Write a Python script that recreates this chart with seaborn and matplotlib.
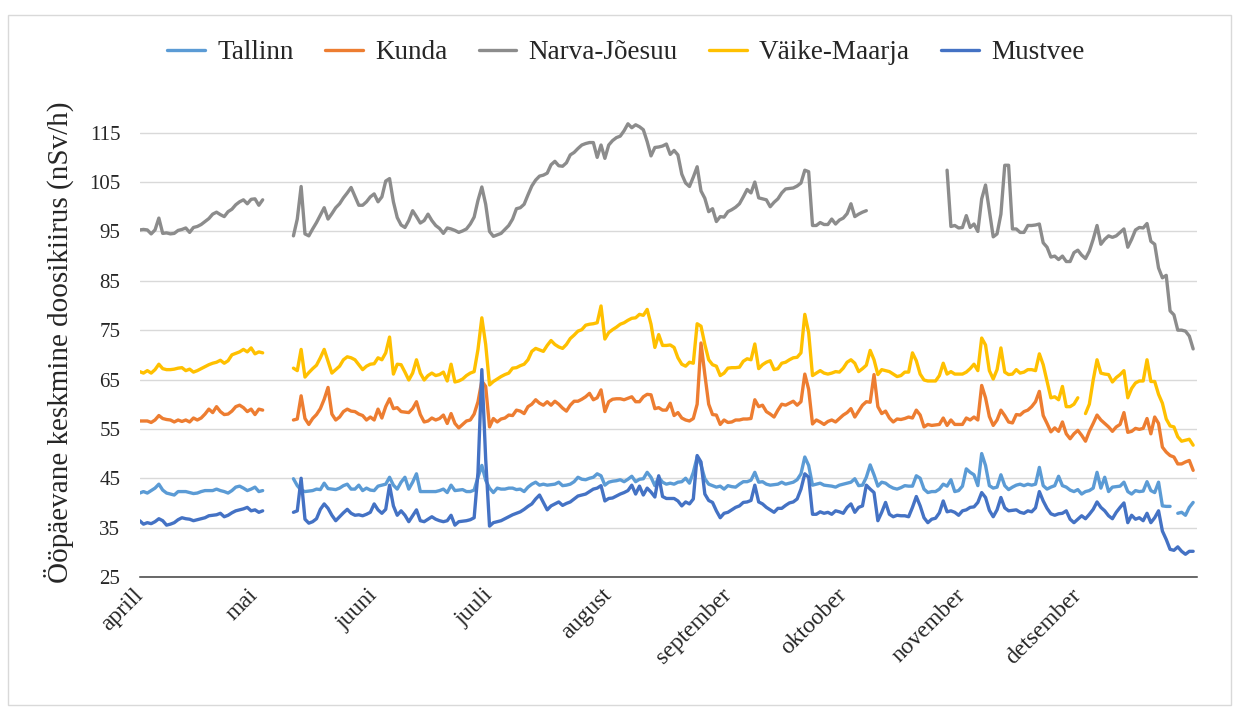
import numpy as np
import pandas as pd
import seaborn as sns
import matplotlib.pyplot as plt
from matplotlib.patches import Rectangle

nan = np.nan

stations = ["Tallinn", "Kunda", "Narva-Jõesuu", "Väike-Maarja", "Mustvee"]
colors = ["#5B9BD5", "#ED7D31", "#8C8C8C", "#FFC000", "#4472C4"]
month_labels = ["aprill", "mai", "juuni", "juuli", "august", "september",
                "oktoober", "november", "detsember"]
y_ticks = [25, 35, 45, 55, 65, 75, 85, 95, 105, 115]

days = pd.date_range("2019-04-01", "2019-12-31", freq="D")

# päevased väärtused (nSv/h), loetud graafikult kuude kaupa
tallinn = (
    [42.0, 42.3, 42.0, 42.5, 43.0, 43.8, 42.6, 42.0, 41.8, 41.6, 42.3, 42.3, 42.3, 42.1, 41.9,
     42.0, 42.3, 42.5, 42.5, 42.5, 42.8, 42.5, 42.3, 42.0, 42.5, 43.2, 43.4, 43.0, 42.5, 42.8]
    + [43.2, 42.3, 42.5, nan, nan, nan, nan, nan, nan, nan, 44.9, 43.5, 42.6, 42.3, 42.4, 42.5,
       42.8, 42.7, 44.0, 42.9, 42.8, 42.7, 43.0, 43.5, 43.8, 42.8, 42.8, 43.6, 42.5, 43.0, 42.6]
    + [42.5, 43.4, 43.6, 43.8, 45.2, 43.6, 42.8, 44.2, 45.2, 42.8, 44.2, 45.9, 42.3, 42.3, 42.3,
       42.3, 42.3, 42.5, 42.8, 42.1, 43.6, 42.5, 42.6, 42.7, 42.3, 42.3, 42.6, 45.2, 47.6, 44.6]
    + [43.0, 42.1, 43.0, 42.8, 42.8, 43.0, 43.0, 42.7, 42.8, 42.3, 43.2, 43.8, 44.2, 43.6, 43.8,
       43.6, 43.7, 43.8, 44.2, 43.5, 43.6, 43.8, 44.3, 45.2, 44.8, 44.7, 45.0, 45.2, 45.9, 45.5, 43.6]
    + [44.2, 44.4, 44.5, 44.7, 44.3, 44.8, 45.4, 44.3, 44.8, 44.9, 46.2, 45.2, 43.5, 45.2, 44.2,
       43.8, 44.0, 43.8, 44.2, 44.3, 45.0, 44.0, 46.2, 49.3, 47.7, 44.9, 43.8, 43.5, 43.2, 43.4, 42.8]
    + [43.5, 43.3, 43.2, 43.8, 44.3, 44.3, 44.6, 46.2, 44.2, 44.3, 43.8, 43.6, 43.7, 43.8, 44.2,
       43.8, 44.0, 44.2, 44.7, 45.9, 49.3, 47.6, 43.6, 43.8, 44.0, 43.6, 43.5, 43.4, 43.2, 43.6]
    + [43.8, 44.0, 44.2, 44.9, 43.5, 43.6, 45.2, 47.7, 45.7, 43.4, 44.2, 44.0, 43.4, 43.0, 42.8,
       43.1, 43.5, 43.4, 43.4, 45.5, 45.0, 42.8, 42.1, 42.3, 42.3, 42.8, 43.8, 43.4, 44.7, 42.3, 42.5]
    + [43.4, 46.9, 46.2, 45.7, 43.5, 50.0, 47.6, 43.5, 43.0, 43.2, 45.7, 43.5, 42.7, 43.2, 43.6,
       43.8, 43.5, 43.8, 43.6, 43.8, 47.2, 43.5, 42.8, 43.2, 43.5, 45.4, 43.5, 43.2, 42.6, 42.3]
    + [42.7, 41.8, 42.3, 42.5, 43.0, 46.2, 43.0, 45.2, 42.3, 43.2, 43.3, 43.4, 44.2, 42.3, 41.8,
       42.5, 42.3, 42.4, 44.3, 42.5, 42.1, 44.2, 39.4, 39.3, 39.3, nan, 37.9, 38.1, 37.5, 39.1, 40.1]
)

kunda = (
    [56.6, 56.6, 56.6, 56.3, 56.8, 57.7, 57.1, 56.9, 56.8, 56.4, 56.8, 56.5, 56.8, 56.4, 57.2,
     56.8, 57.2, 58.0, 59.0, 58.3, 59.5, 58.5, 57.9, 58.0, 58.6, 59.5, 59.8, 59.3, 58.5, 59.0]
    + [57.9, 59.0, 58.8, nan, nan, nan, nan, nan, nan, nan, 56.8, 57.0, 61.7, 57.1, 55.9, 57.1,
       57.9, 59.1, 61.0, 63.4, 58.0, 56.8, 57.4, 58.5, 59.0, 58.6, 58.5, 58.0, 57.7, 56.8, 57.4]
    + [56.8, 59.0, 57.2, 59.5, 61.1, 59.1, 59.3, 58.5, 58.4, 58.3, 59.1, 60.5, 57.9, 56.4, 56.6,
       57.2, 56.8, 57.1, 57.8, 56.1, 58.1, 56.1, 55.2, 55.9, 56.6, 56.8, 58.0, 60.5, 64.7, 63.6]
    + [55.4, 57.1, 56.4, 57.0, 57.2, 57.8, 57.7, 58.8, 58.6, 58.1, 59.5, 60.0, 60.9, 60.2, 59.8,
       60.5, 59.8, 60.6, 60.0, 59.2, 58.6, 59.8, 60.6, 60.6, 61.0, 61.5, 62.2, 60.9, 61.3, 62.9, 58.5]
    + [60.5, 61.0, 61.1, 61.1, 60.9, 61.2, 61.5, 60.5, 60.5, 61.5, 62.0, 61.9, 59.1, 59.3, 58.8,
       58.8, 60.2, 57.7, 58.3, 57.2, 56.8, 56.6, 57.1, 60.0, 72.4, 66.0, 60.0, 57.9, 57.8, 55.9, 56.8]
    + [56.3, 56.4, 56.8, 56.8, 57.0, 57.0, 57.1, 60.9, 59.5, 59.8, 58.5, 58.0, 57.4, 58.8, 60.0,
       59.8, 60.2, 60.6, 59.8, 60.5, 66.1, 63.0, 56.0, 56.8, 56.4, 55.9, 56.5, 56.8, 56.4, 57.1]
    + [57.8, 58.3, 59.1, 57.4, 58.6, 59.8, 60.5, 60.4, 66.0, 59.5, 58.1, 58.6, 57.2, 56.4, 57.0,
       56.9, 57.1, 57.4, 57.2, 58.8, 57.8, 55.4, 55.9, 55.7, 55.8, 55.9, 57.2, 55.7, 56.8, 55.9, 55.9]
    + [55.9, 57.2, 56.8, 57.4, 56.8, 63.8, 61.3, 57.5, 55.7, 56.8, 58.8, 57.7, 56.4, 56.2, 57.9,
       57.8, 58.5, 58.8, 59.5, 60.5, 62.6, 57.7, 56.1, 54.4, 55.2, 54.5, 56.4, 54.0, 53.0, 54.0]
    + [54.7, 53.7, 52.5, 54.5, 56.1, 57.8, 56.8, 56.1, 55.4, 54.5, 55.4, 55.9, 58.3, 54.3, 54.5,
       55.1, 54.9, 55.1, 57.1, 54.0, 57.4, 56.1, 51.3, 50.3, 49.6, 49.3, 47.9, 47.9, 48.3, 48.6, 46.6]
)

narva = (
    [95.3, 95.4, 95.3, 94.5, 95.3, 97.7, 94.6, 94.7, 94.5, 94.6, 95.2, 95.4, 95.7, 94.8, 95.8,
     96.0, 96.4, 97.0, 97.6, 98.5, 98.9, 98.4, 98.0, 99.0, 99.5, 100.4, 101.0, 101.4, 100.6, 101.5]
    + [101.6, 100.3, 101.4, nan, nan, nan, nan, nan, nan, nan, 94.1, 97.5, 104.1, 94.5, 94.1, 95.5,
       96.8, 98.3, 99.8, 97.5, 98.6, 99.8, 100.6, 101.8, 102.8, 103.9, 102.1, 100.3, 100.3, 101.0, 102.0]
    + [102.6, 101.0, 102.0, 105.2, 105.7, 101.0, 97.8, 96.3, 95.8, 97.2, 99.2, 98.0, 96.7, 97.2, 98.5,
       97.2, 96.2, 95.6, 94.6, 95.7, 95.5, 95.2, 94.8, 95.1, 95.5, 96.5, 97.9, 101.3, 104.0, 100.5]
    + [95.0, 94.0, 94.3, 94.6, 95.4, 96.2, 97.5, 99.6, 99.8, 100.5, 102.4, 104.2, 105.4, 106.2, 106.4,
       106.8, 108.5, 109.2, 108.3, 108.2, 108.9, 110.5, 111.0, 111.8, 112.5, 112.8, 113.0, 113.0,
       110.0, 112.5, 109.8]
    + [112.5, 113.4, 114.0, 114.3, 115.4, 116.8, 116.0, 116.6, 116.2, 115.6, 113.2, 110.3, 112.0,
       112.1, 112.3, 112.7, 110.6, 111.4, 110.5, 106.6, 104.8, 104.1, 106.0, 108.1, 103.2, 101.7,
       99.0, 99.6, 97.0, 98.0, 97.9]
    + [99.0, 99.4, 99.9, 100.6, 102.0, 103.5, 102.8, 105.0, 101.8, 101.6, 101.4, 100.0, 100.9, 101.6,
       102.8, 103.6, 103.7, 103.8, 104.2, 104.8, 107.4, 107.1, 96.2, 96.2, 96.8, 96.4, 96.4, 97.5,
       96.5, 97.3]
    + [97.7, 98.6, 100.6, 98.0, 98.5, 98.9, 99.2] + [nan] * 20 + [107.4, 96.0, 96.2, 95.7]
    + [95.8, 98.2, 95.8, 96.5, 95.0, 101.6, 104.4, 99.2, 93.9, 94.5, 98.5, 108.4, 108.4, 95.5, 95.5,
       94.8, 94.8, 96.2, 96.2, 96.3, 96.5, 92.7, 91.8, 89.8, 90.0, 89.3, 90.0, 88.9, 88.9, 90.7]
    + [91.2, 90.2, 89.5, 91.0, 93.4, 96.2, 92.4, 93.4, 94.1, 93.8, 94.1, 94.8, 95.5, 91.8, 93.4,
       95.3, 95.8, 95.7, 96.6, 93.0, 92.4, 87.6, 85.6, 86.1, 78.9, 78.1, 75.0, 75.0, 74.8, 73.8, 71.2]
)

vaike_maarja = (
    [66.6, 66.3, 66.8, 66.3, 67.0, 68.1, 67.2, 67.0, 67.0, 67.1, 67.3, 67.4, 66.8, 67.1, 66.5,
     66.8, 67.2, 67.6, 68.0, 68.3, 68.5, 68.9, 68.3, 68.8, 70.0, 70.3, 70.6, 71.1, 70.6, 71.4]
    + [70.2, 70.6, 70.4, nan, nan, nan, nan, nan, nan, nan, 67.3, 66.8, 71.1, 65.5, 66.4, 67.2,
       67.9, 69.4, 71.1, 68.7, 66.3, 67.0, 67.7, 69.0, 69.6, 69.4, 69.0, 68.0, 67.0, 67.7, 68.1]
    + [68.2, 69.4, 69.0, 70.4, 73.6, 66.1, 68.1, 68.0, 66.5, 64.9, 66.3, 69.0, 66.3, 64.9, 65.8,
       66.3, 65.8, 66.0, 66.5, 64.7, 68.1, 64.5, 64.7, 65.1, 65.8, 66.3, 66.6, 71.1, 77.5, 72.1]
    + [63.9, 64.6, 65.1, 65.6, 66.0, 66.3, 67.3, 67.4, 67.8, 68.1, 69.0, 70.7, 71.3, 71.0, 70.7,
       71.9, 72.9, 72.1, 71.6, 71.3, 72.1, 73.3, 74.0, 74.8, 75.1, 76.0, 76.2, 76.3, 76.5, 79.9, 73.2]
    + [74.5, 75.1, 75.6, 76.2, 76.5, 77.0, 77.4, 77.5, 78.2, 78.0, 79.2, 76.2, 71.5, 74.1, 71.9,
       71.9, 72.0, 71.5, 69.4, 68.1, 67.7, 68.5, 68.3, 76.3, 75.8, 72.1, 69.0, 68.0, 67.7, 65.8, 66.3]
    + [67.3, 67.4, 67.4, 67.5, 68.7, 69.2, 69.0, 72.2, 67.2, 68.0, 68.5, 68.8, 67.0, 67.2, 68.3,
       68.5, 69.0, 69.4, 69.5, 70.4, 78.2, 74.5, 65.8, 66.3, 66.8, 66.3, 66.1, 66.3, 66.6, 66.5]
    + [67.3, 68.5, 69.0, 68.3, 66.6, 67.2, 67.9, 70.9, 69.0, 66.0, 67.0, 66.8, 66.6, 66.1, 65.6,
       65.8, 66.5, 66.5, 70.4, 68.8, 66.1, 64.9, 64.7, 64.7, 64.7, 65.8, 68.3, 66.1, 66.6, 66.1, 66.1]
    + [66.1, 66.5, 67.2, 68.1, 66.8, 73.4, 72.0, 66.8, 65.1, 67.0, 71.4, 66.5, 66.0, 66.1, 67.0,
       66.3, 66.5, 67.0, 67.0, 66.8, 70.2, 68.0, 64.6, 61.3, 61.5, 60.9, 63.6, 59.5, 59.5, 60.0]
    + [61.3, nan, 58.1, 60.0, 64.9, 69.0, 66.3, 66.1, 66.0, 64.5, 65.4, 66.0, 66.8, 61.3, 63.2,
       64.3, 64.7, 64.7, 69.0, 64.6, 64.6, 62.0, 60.2, 57.0, 55.6, 55.4, 53.4, 52.5, 52.7, 52.9, 51.7]
)

mustvee = (
    [36.4, 35.7, 36.0, 35.8, 36.2, 36.8, 36.4, 35.5, 35.7, 36.0, 36.6, 37.0, 36.8, 36.7, 36.4,
     36.6, 36.8, 37.0, 37.4, 37.5, 37.6, 37.9, 37.2, 37.5, 38.0, 38.4, 38.6, 38.8, 39.1, 38.4]
    + [38.6, 38.1, 38.4, nan, nan, nan, nan, nan, nan, nan, 38.1, 38.4, 45.0, 36.7, 35.9, 36.2,
       36.8, 38.7, 39.8, 38.9, 37.5, 36.4, 37.2, 38.0, 38.7, 37.9, 37.5, 37.6, 37.4, 37.7, 38.1]
    + [39.8, 38.6, 37.9, 38.7, 43.6, 39.4, 37.5, 38.4, 37.5, 36.2, 37.4, 38.6, 36.4, 36.2, 36.7,
       37.2, 36.7, 36.4, 36.2, 36.4, 37.5, 35.5, 36.2, 36.3, 36.4, 36.6, 37.0, 46.2, 67.0, 48.9]
    + [35.3, 36.0, 36.2, 36.4, 36.8, 37.2, 37.6, 37.9, 38.2, 38.7, 39.3, 39.8, 40.8, 41.6, 40.1,
       38.6, 39.4, 39.8, 40.2, 39.5, 39.9, 40.2, 40.8, 41.4, 41.6, 41.8, 42.3, 42.8, 43.0, 43.5, 40.4]
    + [40.9, 41.0, 41.4, 41.8, 42.1, 42.5, 43.6, 41.8, 43.4, 41.6, 43.0, 42.2, 41.2, 45.5, 41.3,
       40.9, 40.9, 40.9, 40.4, 39.4, 40.2, 39.8, 40.8, 49.6, 48.3, 41.8, 40.5, 40.1, 38.4, 37.0, 37.9]
    + [38.1, 38.6, 39.1, 39.4, 40.1, 40.2, 40.5, 43.6, 40.2, 39.8, 39.1, 38.6, 38.1, 38.9, 38.9,
       39.5, 40.0, 40.2, 40.8, 42.8, 45.9, 45.2, 37.7, 37.7, 38.2, 37.9, 38.1, 37.7, 38.4, 38.2]
    + [37.9, 39.1, 39.8, 38.1, 39.1, 39.4, 43.6, 42.8, 42.1, 36.4, 38.1, 40.1, 37.7, 37.2, 37.5,
       37.4, 37.4, 37.2, 39.1, 41.3, 39.4, 37.0, 36.0, 36.7, 36.9, 38.0, 40.4, 38.2, 38.4, 38.1, 37.5]
    + [38.4, 38.6, 39.1, 39.2, 40.1, 42.1, 41.1, 38.5, 37.2, 38.6, 41.1, 39.0, 38.4, 38.5, 38.6,
       38.1, 37.9, 38.4, 38.2, 39.0, 42.3, 40.4, 38.9, 37.8, 37.5, 37.8, 37.9, 38.4, 36.7, 36.0]
    + [36.7, 37.4, 36.8, 37.7, 38.7, 40.2, 39.1, 38.4, 37.4, 36.8, 38.1, 39.1, 40.0, 36.0, 37.5,
       36.7, 37.0, 36.4, 37.9, 36.0, 37.0, 38.4, 34.3, 32.6, 30.6, 30.4, 31.1, 30.2, 29.6, 30.2, 30.2]
)

series = [tallinn, kunda, narva, vaike_maarja, mustvee]

# pikk tabel, katkestuste kohal uus lõik, et joon ei ühenduks üle puuduvate päevade
frames = []
for name, vals in zip(stations, series):
    assert len(vals) == len(days), (name, len(vals))
    s = pd.Series(vals, index=days)
    d = pd.DataFrame({"kuupäev": days, "doos": s.values, "jaam": name,
                      "lõik": s.isna().cumsum().values})
    frames.append(d.dropna())
df = pd.concat(frames, ignore_index=True)

sns.set_style("white")
plt.rcParams["font.family"] = ["Liberation Serif", "DejaVu Serif"]

fig = plt.figure(figsize=(12.39, 7.11), dpi=100)
ax = fig.add_axes([0.1127, 0.1885, 0.8534, 0.6596])

sns.lineplot(data=df, x="kuupäev", y="doos", hue="jaam", hue_order=stations,
             units="lõik", estimator=None, palette=colors, linewidth=2.4, ax=ax)

ax.set_xlim(pd.Timestamp("2019-04-01"), pd.Timestamp("2020-01-01"))
ax.set_ylim(25, 120)
ax.set_yticks(y_ticks)
ax.set_xticks(pd.date_range("2019-04-01", "2019-12-01", freq="MS"))
ax.set_xticklabels(month_labels, rotation=45, ha="right", va="center",
                   rotation_mode="anchor")

ax.grid(axis="y", color="#d9d9d9", linewidth=1)
ax.set_axisbelow(True)
for side in ["left", "right", "top"]:
    ax.spines[side].set_visible(False)
ax.spines["bottom"].set_color("#404040")
ax.spines["bottom"].set_linewidth(1.1)
ax.tick_params(axis="y", length=0, pad=14, labelsize=15)
ax.tick_params(axis="x", direction="out", length=5, width=1.1, color="#404040",
               pad=6, labelsize=17)

ax.set_xlabel("")
ax.set_ylabel("Ööpäevane keskmine doosikiirus (nSv/h)", fontsize=21)
ax.yaxis.set_label_coords(-0.062, 0.5)

handles, labels = ax.get_legend_handles_labels()
ax.legend(handles, labels, loc="center", bbox_to_anchor=(0.46, 1.118), ncol=5,
          frameon=False, fontsize=19.5, handlelength=1.4, handletextpad=0.45,
          columnspacing=1.15)

# raam ümber joonise
fig.patches.append(Rectangle((8 / 1239, 6 / 711), 1223 / 1239, 690 / 711,
                             transform=fig.transFigure, fill=False,
                             edgecolor="#d9d9d9", linewidth=1))

fig.savefig("out.png", dpi=100)
